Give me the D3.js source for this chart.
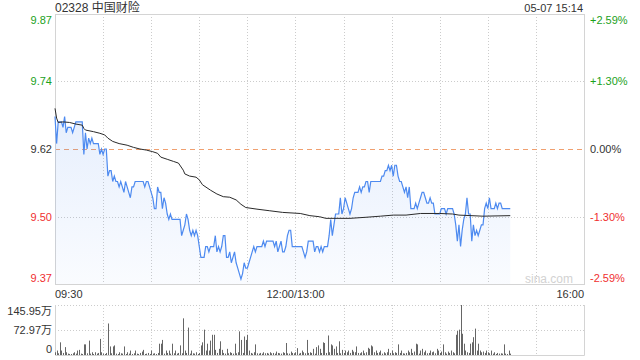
<!DOCTYPE html>
<html>
<head>
<meta charset="utf-8">
<script src="https://cdn.jsdelivr.net/npm/d3@7"></script>
<style>
  body { margin: 0; background: #fff; }
  svg text { font-family: "Liberation Sans", Arial, "Noto Sans CJK SC", sans-serif; }
</style>
</head>
<body>
<div id="chart"></div>
<script>
// constants
const width = 640, height = 360;
const plotLeft = 55, plotRight = 584;
const plotTop = 14, plotBottom = 284;
const volTop = 305, volBottom = 355;

const title = "02328 中国财险";
const stamp = "05-07 15:14";
const prevClose = 9.62;

const priceTicks = ["9.87", "9.74", "9.62", "9.50", "9.37"];
const pctTicks = [2.59, 1.30, 0, -1.30, -2.59];
const pctLabels = ["+2.59%", "+1.30%", "0.00%", "-1.30%", "-2.59%"];
const timeTicks = [0, 150, 330];
const timeLabels = ["09:30", "12:00/13:00", "16:00"];
const volTicks = [145.95, 72.97, 0];
const volLabels = ["145.95万", "72.97万", "0"];

// price per minute from 09:30
const price = [
  9.68, 9.63, 9.67, 9.67, 9.67, 9.66, 9.68, 9.65, 9.66, 9.66,
  9.66, 9.65, 9.66, 9.67, 9.67, 9.67, 9.67, 9.67, 9.61, 9.65,
  9.62, 9.64, 9.63, 9.64, 9.63, 9.63, 9.63, 9.63, 9.61, 9.62,
  9.61, 9.62, 9.62, 9.57, 9.58, 9.58, 9.56, 9.57, 9.56, 9.56,
  9.55, 9.56, 9.55, 9.54, 9.56, 9.55, 9.54, 9.53, 9.55, 9.55,
  9.56, 9.56, 9.56, 9.56, 9.56, 9.56, 9.55, 9.56, 9.56, 9.55,
  9.54, 9.53, 9.51, 9.51, 9.55, 9.54, 9.54, 9.51, 9.53, 9.52,
  9.50, 9.49, 9.50, 9.49, 9.49, 9.49, 9.49, 9.49, 9.49, 9.46,
  9.47, 9.48, 9.50, 9.49, 9.47, 9.46, 9.47, 9.46, 9.47, 9.46,
  9.44, 9.42, 9.42, 9.42, 9.44, 9.44, 9.43, 9.44, 9.44, 9.44,
  9.46, 9.43, 9.44, 9.43, 9.44, 9.46, 9.46, 9.42, 9.42, 9.43,
  9.41, 9.42, 9.43, 9.41, 9.40, 9.39, 9.38, 9.39, 9.41, 9.40,
  9.40, 9.41, 9.42, 9.43, 9.44, 9.43, 9.44, 9.44, 9.44, 9.44,
  9.45, 9.44, 9.45, 9.45, 9.45, 9.45, 9.45, 9.44, 9.45, 9.43,
  9.44, 9.45, 9.43, 9.43, 9.44, 9.46, 9.47, 9.47, 9.44, 9.44,
  9.44, 9.44, 9.44, 9.44, 9.44, 9.43, 9.42, 9.43, 9.45, 9.45,
  9.45, 9.45, 9.43, 9.44, 9.44, 9.43, 9.44, 9.43, 9.44, 9.44,
  9.44, 9.46, 9.49, 9.46, 9.48, 9.50, 9.50, 9.50, 9.53, 9.50,
  9.51, 9.53, 9.52, 9.51, 9.50, 9.51, 9.53, 9.54, 9.54, 9.54,
  9.55, 9.54, 9.55, 9.55, 9.56, 9.56, 9.54, 9.56, 9.56, 9.56,
  9.56, 9.56, 9.56, 9.56, 9.57, 9.57, 9.58, 9.58, 9.59, 9.58,
  9.59, 9.57, 9.59, 9.59, 9.57, 9.56, 9.56, 9.55, 9.54, 9.55,
  9.53, 9.55, 9.51, 9.51, 9.51, 9.52, 9.51, 9.52, 9.53, 9.54,
  9.54, 9.53, 9.52, 9.52, 9.53, 9.52, 9.52, 9.50, 9.50, 9.50,
  9.50, 9.51, 9.51, 9.51, 9.50, 9.51, 9.51, 9.51, 9.51, 9.50,
  9.48, 9.45, 9.48, 9.44, 9.47, 9.49, 9.50, 9.53, 9.50, 9.50,
  9.45, 9.48, 9.46, 9.47, 9.46, 9.47, 9.48, 9.48, 9.51, 9.52,
  9.51, 9.53, 9.51, 9.51, 9.51, 9.52, 9.51, 9.52, 9.52, 9.51,
  9.51, 9.51, 9.51, 9.51, 9.51
];

// average price line, read at these minutes
const avgMin = [0, 1, 2, 5, 9, 13, 17, 18, 19, 24, 28, 31, 33, 36, 40, 45, 49, 53, 57, 61,
  64, 66, 70, 74, 77, 80, 81, 84, 88, 90, 92, 97, 101, 105, 109, 113, 116, 119, 126, 134,
  142, 153, 159, 165, 169, 184, 194, 203, 211, 219, 228, 240, 248, 252, 267, 284];
const avgVal = [9.695, 9.677, 9.669, 9.670, 9.669, 9.666, 9.664, 9.658, 9.655, 9.652,
  9.649, 9.646, 9.640, 9.634, 9.630, 9.627, 9.623, 9.620, 9.618, 9.615,
  9.612, 9.605, 9.601, 9.597, 9.594, 9.581, 9.574, 9.570, 9.568, 9.563,
  9.554, 9.544, 9.537, 9.532, 9.531, 9.526, 9.518, 9.512, 9.509, 9.506,
  9.503, 9.501, 9.497, 9.495, 9.492, 9.492, 9.494, 9.496, 9.498, 9.498,
  9.501, 9.501, 9.500, 9.498, 9.496, 9.497];

// volume per minute, 万
const volume = [
  8, 13, 5, 37, 13, 6, 23, 8, 4, 3,
  3, 5, 8, 4, 13, 15, 4, 3, 31, 31,
  5, 42, 4, 8, 3, 8, 4, 6, 47, 8,
  4, 3, 6, 92, 25, 5, 25, 28, 4, 3,
  8, 5, 4, 25, 3, 8, 4, 13, 3, 5,
  13, 4, 3, 6, 10, 15, 3, 4, 6, 3,
  13, 4, 5, 3, 6, 33, 33, 44, 4, 13,
  6, 13, 4, 33, 5, 13, 4, 6, 28, 5,
  107, 13, 6, 80, 4, 13, 5, 4, 8, 3,
  6, 28, 37, 74, 13, 33, 13, 42, 59, 59,
  15, 6, 18, 40, 15, 6, 4, 18, 5, 8,
  6, 4, 33, 5, 8, 69, 44, 6, 54, 44,
  59, 13, 6, 4, 8, 31, 5, 4, 6, 4,
  8, 5, 6, 4, 8, 5, 6, 4, 10, 6,
  5, 4, 8, 6, 35, 5, 4, 10, 6, 5,
  8, 20, 4, 6, 13, 8, 5, 44, 6, 8,
  6, 18, 4, 23, 28, 18, 6, 37, 35, 6,
  57, 8, 31, 28, 18, 25, 6, 40, 5, 15,
  6, 13, 8, 13, 6, 15, 10, 8, 25, 6,
  5, 8, 13, 5, 8, 21, 18, 28, 25, 8,
  13, 6, 8, 13, 4, 8, 5, 8, 18, 6,
  13, 5, 8, 6, 31, 6, 13, 5, 4, 6,
  13, 8, 18, 6, 10, 33, 31, 4, 13, 18,
  8, 13, 5, 6, 13, 8, 10, 5, 18, 13,
  6, 10, 31, 8, 4, 10, 6, 13, 8, 5,
  59, 70, 74, 145.95, 62, 33, 13, 8, 6, 33,
  37, 52, 77, 13, 33, 13, 8, 10, 6, 13,
  8, 5, 13, 4, 8, 3, 6, 4, 5, 4,
  31, 4, 3, 13, 4
];

const green = "#1ba11b", red = "#f03030", dark = "#333";
const tickColor = p => p > 0 ? green : p < 0 ? red : dark;

const svg = d3.select("#chart").append("svg")
  .attr("width", width)
  .attr("height", height)
  .attr("viewBox", [0, 0, width, height]);

const x = d3.scaleLinear().domain([0, 330]).range([plotLeft, plotRight]);
const span = prevClose * 0.0259;
const y = d3.scaleLinear().domain([prevClose - span, prevClose + span]).range([plotBottom, plotTop]);
const yPct = d3.scaleLinear().domain([-2.59, 2.59]).range([plotBottom, plotTop]);
const yVol = d3.scaleLinear().domain([0, 145.95]).range([volBottom, volTop]);

// gradient for area
const grad = svg.append("defs").append("linearGradient")
  .attr("id", "fade")
  .attr("gradientUnits", "userSpaceOnUse")
  .attr("x1", 0).attr("y1", plotTop).attr("x2", 0).attr("y2", plotBottom);
grad.append("stop").attr("offset", "0%").attr("stop-color", "#4d8af0").attr("stop-opacity", 0.2);
grad.append("stop").attr("offset", "100%").attr("stop-color", "#4d8af0").attr("stop-opacity", 0.03);

// grid - vertical
const vGrid = d3.range(30, 330, 30);
svg.append("g").selectAll("line")
  .data(vGrid)
  .join("line")
  .attr("x1", d => Math.round(x(d)) + 0.5).attr("x2", d => Math.round(x(d)) + 0.5)
  .attr("y1", plotTop).attr("y2", plotBottom)
  .attr("stroke", "#ccc").attr("stroke-dasharray", "1,2");
svg.append("g").selectAll("line")
  .data(vGrid)
  .join("line")
  .attr("x1", d => Math.round(x(d)) + 0.5).attr("x2", d => Math.round(x(d)) + 0.5)
  .attr("y1", volTop).attr("y2", volBottom)
  .attr("stroke", "#ccc").attr("stroke-dasharray", "1,2");

// grid - horizontal
svg.append("g").selectAll("line")
  .data([1.30, -1.30])
  .join("line")
  .attr("x1", plotLeft).attr("x2", plotRight)
  .attr("y1", d => Math.round(yPct(d)) + 0.5).attr("y2", d => Math.round(yPct(d)) + 0.5)
  .attr("stroke", "#ccc").attr("stroke-dasharray", "1,2");
svg.append("line")
  .attr("x1", plotLeft).attr("x2", plotRight)
  .attr("y1", Math.round(yPct(0)) + 0.5).attr("y2", Math.round(yPct(0)) + 0.5)
  .attr("stroke", "#f0a070").attr("stroke-dasharray", "5,4");
svg.append("line")
  .attr("x1", plotLeft).attr("x2", plotRight)
  .attr("y1", Math.round(yVol(72.97)) + 0.5).attr("y2", Math.round(yVol(72.97)) + 0.5)
  .attr("stroke", "#ccc").attr("stroke-dasharray", "1,2");
svg.append("line")
  .attr("x1", plotLeft).attr("x2", plotRight)
  .attr("y1", volTop + 0.5).attr("y2", volTop + 0.5)
  .attr("stroke", "#ccc").attr("stroke-dasharray", "1,2");

// frames
svg.append("rect")
  .attr("x", plotLeft + 0.5).attr("y", plotTop + 0.5)
  .attr("width", plotRight - plotLeft).attr("height", plotBottom - plotTop)
  .attr("fill", "none").attr("stroke", "#d4d4d4");
svg.append("path")
  .attr("d", `M${plotLeft + 0.5},${volTop}V${volBottom + 0.5}H${plotRight + 0.5}V${volTop}`)
  .attr("fill", "none").attr("stroke", "#d4d4d4");

// watermark
svg.append("text")
  .attr("x", 573).attr("y", 283)
  .attr("text-anchor", "end")
  .attr("font-size", 12)
  .attr("fill", "#d2d2d2")
  .text("sina.com");

// price area + line
const area = d3.area()
  .x((d, i) => x(i))
  .y0(plotBottom)
  .y1(d => y(d));
svg.append("path")
  .datum(price)
  .attr("d", area)
  .attr("fill", "url(#fade)");

const line = d3.line()
  .x((d, i) => x(i))
  .y(d => y(d));
svg.append("path")
  .datum(price)
  .attr("d", line)
  .attr("fill", "none")
  .attr("stroke", "#4d8af0")
  .attr("stroke-width", 1.2);

// average line
svg.append("path")
  .datum(avgMin.map((m, i) => [m, avgVal[i]]))
  .attr("d", d3.line().x(d => x(d[0])).y(d => y(d[1])))
  .attr("fill", "none")
  .attr("stroke", "#2a2a2a")
  .attr("stroke-width", 1);

// volume bars
svg.append("g").selectAll("rect")
  .data(volume)
  .join("rect")
  .attr("x", (d, i) => Math.round(x(i)))
  .attr("width", 1)
  .attr("y", d => yVol(d))
  .attr("height", d => volBottom - yVol(d))
  .attr("fill", "#666");

// left price labels
const clampY = v => Math.max(plotTop + 6, Math.min(plotBottom - 6, v));
svg.append("g").selectAll("text")
  .data(pctTicks)
  .join("text")
  .attr("x", 52)
  .attr("y", d => clampY(yPct(d)))
  .attr("dy", "0.35em")
  .attr("text-anchor", "end")
  .attr("font-size", 11)
  .attr("fill", d => tickColor(d))
  .text((d, i) => priceTicks[i]);

// right percent labels
svg.append("g").selectAll("text")
  .data(pctTicks)
  .join("text")
  .attr("x", 590)
  .attr("y", d => clampY(yPct(d)))
  .attr("dy", "0.35em")
  .attr("font-size", 11)
  .attr("fill", d => tickColor(d))
  .text((d, i) => pctLabels[i]);

// time labels
svg.append("g").selectAll("text")
  .data(timeTicks)
  .join("text")
  .attr("x", d => x(d))
  .attr("y", 294)
  .attr("dy", "0.35em")
  .attr("text-anchor", (d, i) => ["start", "middle", "end"][i])
  .attr("font-size", 11)
  .attr("fill", dark)
  .text((d, i) => timeLabels[i]);

// volume labels
const clampV = v => Math.max(volTop + 6, Math.min(volBottom - 6, v));
svg.append("g").selectAll("text")
  .data(volTicks)
  .join("text")
  .attr("x", 52)
  .attr("y", d => clampV(yVol(d)))
  .attr("dy", "0.35em")
  .attr("text-anchor", "end")
  .attr("font-size", 11)
  .attr("fill", dark)
  .text((d, i) => volLabels[i]);

// header
svg.append("text")
  .attr("x", plotLeft).attr("y", 12)
  .attr("font-size", 12)
  .attr("fill", dark)
  .text(title);
svg.append("text")
  .attr("x", plotRight - 1).attr("y", 12)
  .attr("text-anchor", "end")
  .attr("font-size", 11)
  .attr("fill", dark)
  .text(stamp);
</script>
</body>
</html>
